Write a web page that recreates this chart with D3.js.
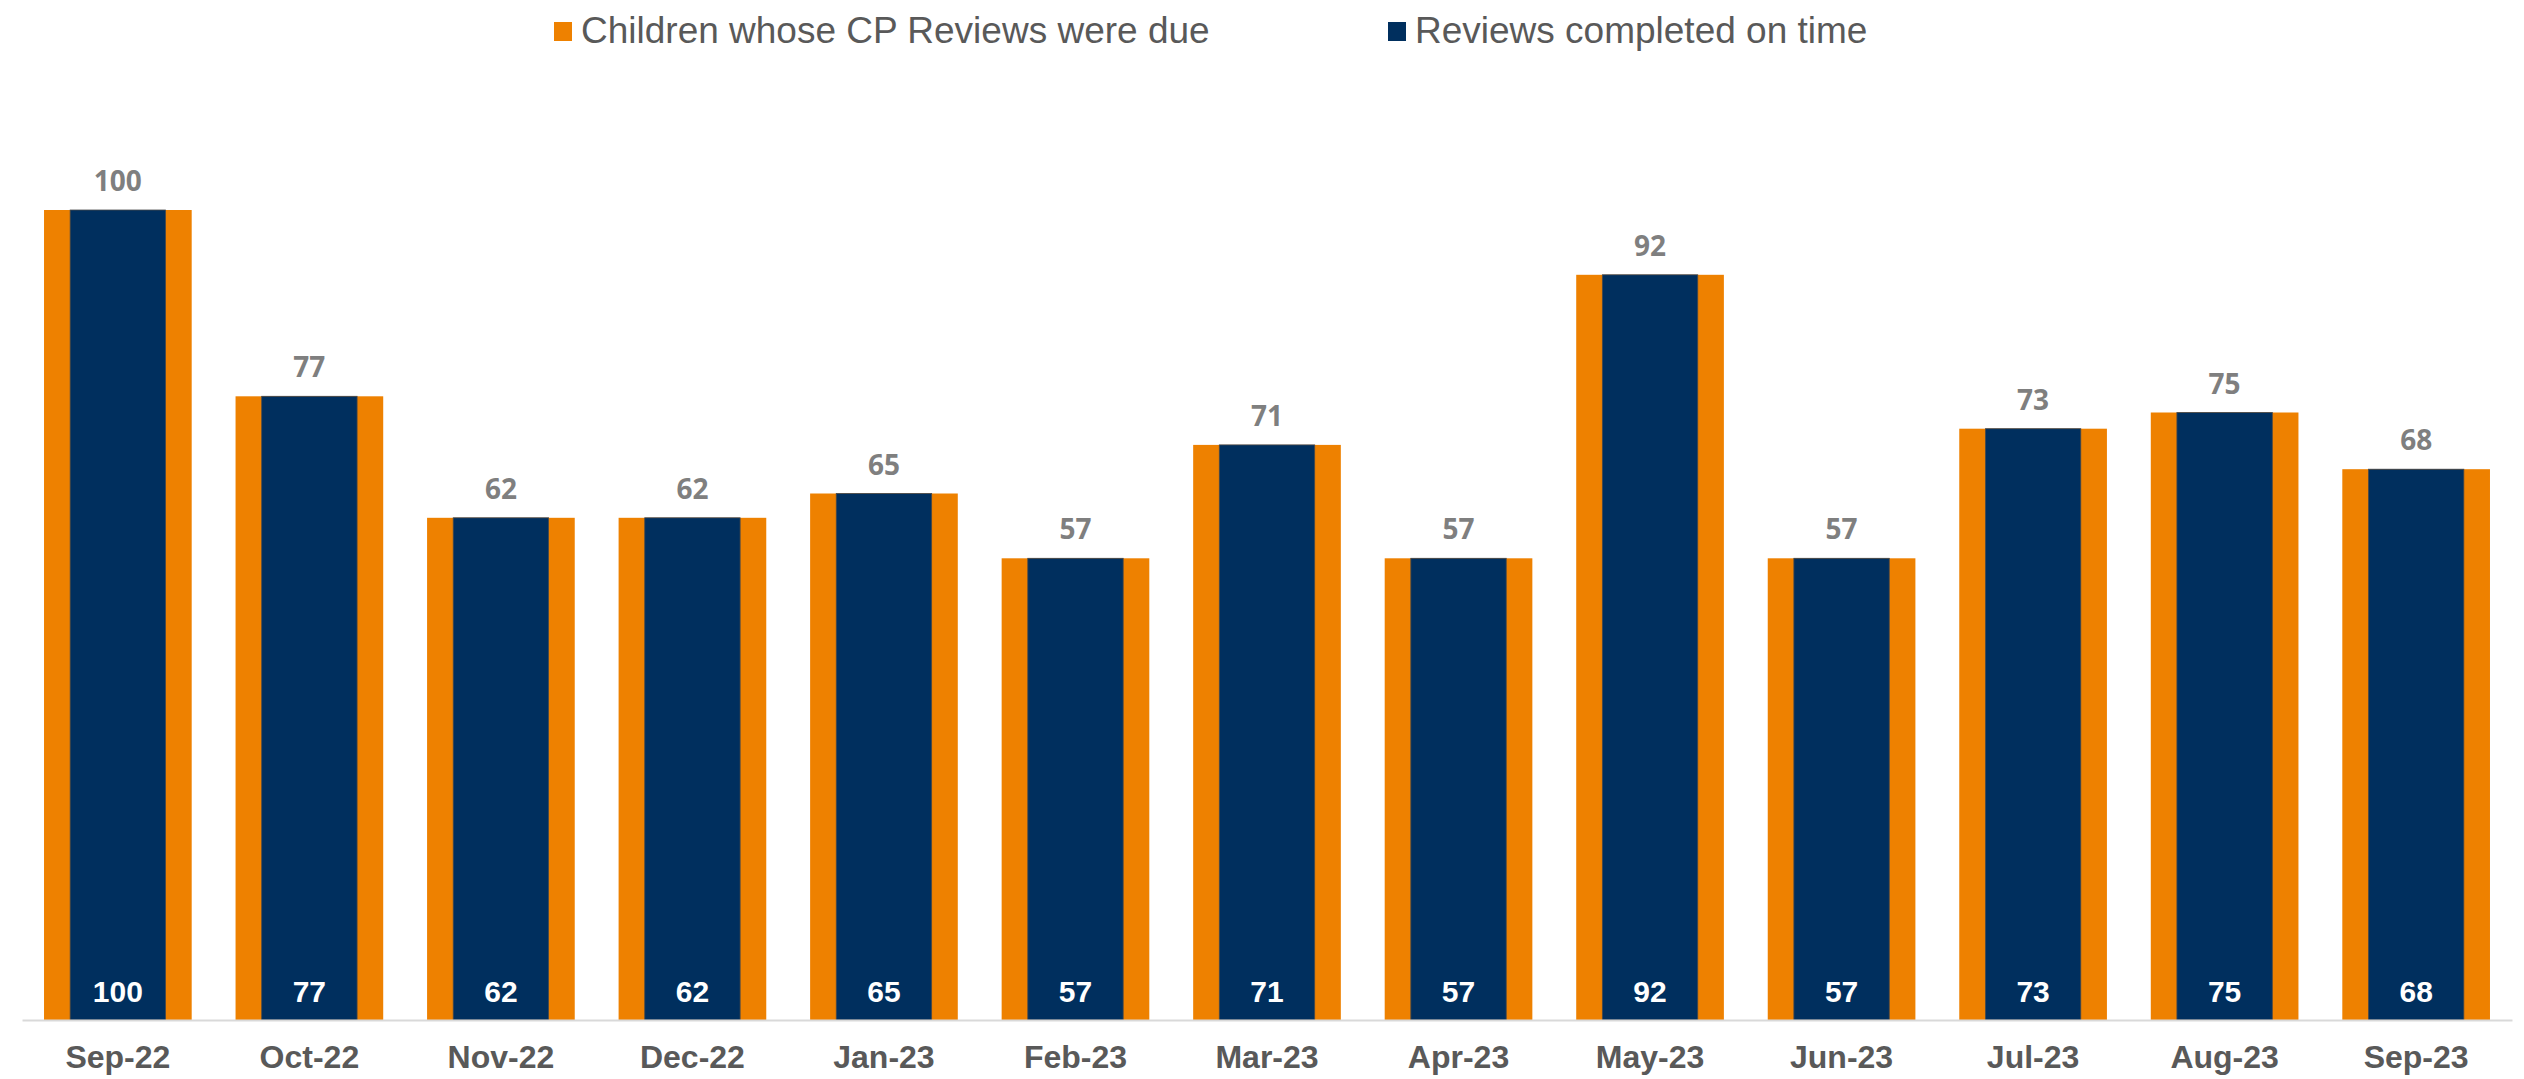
<!DOCTYPE html>
<html>
<head>
<meta charset="utf-8">
<title>CP Reviews</title>
<script src="https://d3js.org/d3.v7.min.js"></script>
<style>
  body { margin: 0; background: #fff; }
  svg { display: block; }
</style>
</head>
<body>
<script>
const months = ["Sep-22", "Oct-22", "Nov-22", "Dec-22", "Jan-23", "Feb-23", "Mar-23",
                "Apr-23", "May-23", "Jun-23", "Jul-23", "Aug-23", "Sep-23"];
const due = [100, 77, 62, 62, 65, 57, 71, 57, 92, 57, 73, 75, 68];
const onTime = [100, 77, 62, 62, 65, 57, 71, 57, 92, 57, 73, 75, 68];
const seriesNames = ["Children whose CP Reviews were due", "Reviews completed on time"];

const w = 2524, h = 1079;
const orange = "#ee8100", navy = "#002f5e";

const svg = d3.select("body").append("svg")
    .attr("width", w)
    .attr("height", h);

const x = d3.scaleBand()
    .domain(months)
    .range([22, 2512])
    .paddingInner(0.229)
    .paddingOuter(0.115);

const y = d3.scaleLinear()
    .domain([0, 100])
    .range([1020, 210]);

// orange bars (wider, behind)
svg.selectAll("rect.due")
    .data(due)
    .enter()
    .append("rect")
    .attr("class", "due")
    .attr("x", (d, i) => x(months[i]))
    .attr("y", d => y(d))
    .attr("width", x.bandwidth())
    .attr("height", d => y(0) - y(d))
    .attr("fill", orange);

// navy bars (narrower, in front)
const inset = x.bandwidth() * 0.177;
svg.selectAll("rect.ontime")
    .data(onTime)
    .enter()
    .append("rect")
    .attr("class", "ontime")
    .attr("x", (d, i) => x(months[i]) + inset)
    .attr("y", d => y(d))
    .attr("width", x.bandwidth() - 2 * inset)
    .attr("height", d => y(0) - y(d))
    .attr("fill", navy)
    .attr("stroke", "#4a4a4a")
    .attr("stroke-width", 0.8);

// axis line + labels
const xAxis = d3.axisBottom(x).tickSize(0).tickPadding(25);
const gx = svg.append("g")
    .attr("transform", "translate(0," + y(0) + ")")
    .call(xAxis);
gx.select(".domain").attr("stroke", "#d9d9d9").attr("stroke-width", 2);
gx.selectAll("text")
    .attr("fill", "#595959")
    .style("font-family", "Arial, 'Liberation Sans', sans-serif")
    .style("font-weight", "bold")
    .style("font-size", "32px");

// labels above the orange bars
svg.selectAll("text.dueLabel")
    .data(due)
    .enter()
    .append("text")
    .attr("class", "dueLabel")
    .attr("x", (d, i) => x(months[i]) + x.bandwidth() / 2)
    .attr("y", d => y(d) - 19)
    .attr("text-anchor", "middle")
    .attr("fill", "#7f7f7f")
    .style("font-family", "'Open Sans', Lato, sans-serif")
    .style("font-weight", "bold")
    .style("font-size", "28px")
    .text(d => d);

// labels inside navy bars at the base
svg.selectAll("text.onTimeLabel")
    .data(onTime)
    .enter()
    .append("text")
    .attr("class", "onTimeLabel")
    .attr("x", (d, i) => x(months[i]) + x.bandwidth() / 2)
    .attr("y", y(0) - 18)
    .attr("text-anchor", "middle")
    .attr("fill", "#fff")
    .style("font-family", "Arial, 'Liberation Sans', sans-serif")
    .style("font-weight", "bold")
    .style("font-size", "30px")
    .text(d => d);

// legend
const legend = svg.append("g");
const legendX = [554, 1388];
[orange, navy].forEach((c, i) => {
    legend.append("rect")
        .attr("x", legendX[i])
        .attr("y", 22)
        .attr("width", 18)
        .attr("height", 19)
        .attr("fill", c);
    legend.append("text")
        .attr("x", legendX[i] + 27)
        .attr("y", 43)
        .attr("fill", "#595959")
        .style("font-family", "Arial, 'Liberation Sans', sans-serif")
        .style("font-size", "37px")
        .text(seriesNames[i]);
});
</script>
</body>
</html>
